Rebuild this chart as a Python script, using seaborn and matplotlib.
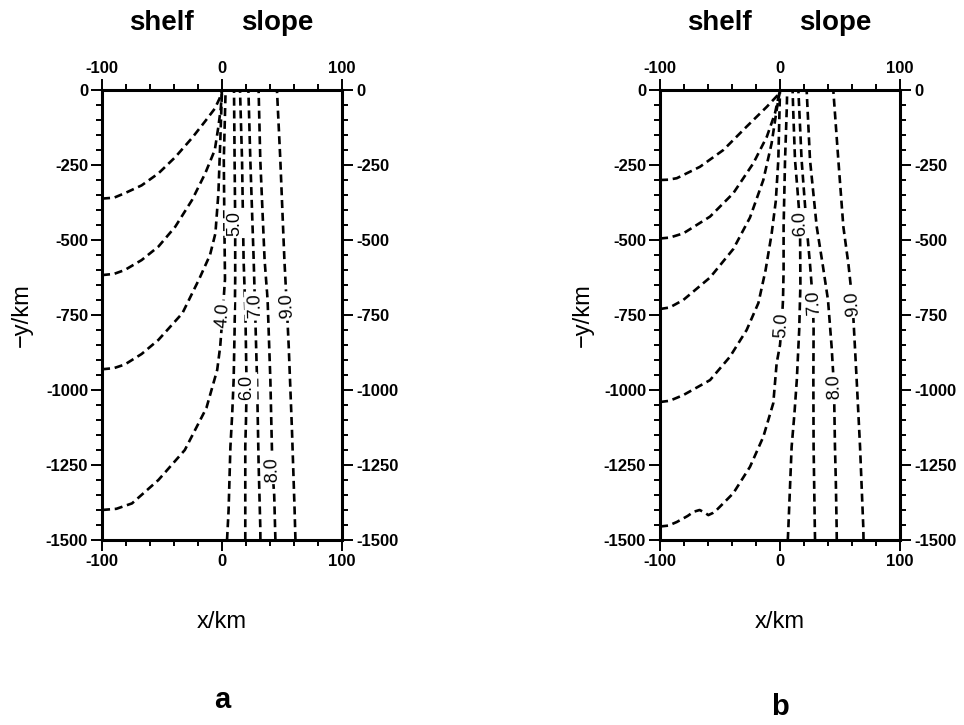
import numpy as np
import pandas as pd
import matplotlib
matplotlib.use("Agg")
import matplotlib.pyplot as plt
from matplotlib.ticker import MultipleLocator
import seaborn as sns

# ---------------- data (km) ----------------
LEVELS = [1.0, 2.0, 3.0, 4.0, 5.0, 6.0, 7.0, 8.0, 9.0]

# panel a contours
A1_X = [-100, -90, -81, -67, -53, -39, -25, -14, -6, -2, 0]
A1_Y = [-362, -359, -344, -318, -278, -224, -160, -104, -62, -28, 0]
A2_X = [-100, -90, -81, -67, -53, -39, -25, -14, -6, -3, -1, 0]
A2_Y = [-617, -613, -600, -567, -522, -456, -367, -278, -200, -122, -60, 0]
A3_X = [-100, -90, -81, -67, -53, -33, -19, -10, -5.5, -3, -1.5, -0.5, 0]
A3_Y = [-931, -927, -915, -880, -833, -744, -630, -550, -478, -344, -178, -60, 0]
A4_X = [-100, -88, -75, -53, -31, -13, -4, -1.5, 0.5, 2.5, 2, 1.5, 3]
A4_Y = [-1400, -1396, -1378, -1300, -1200, -1060, -933, -855, -750, -630, -456, -233, 0]
A5_X = [4.2, 5.5, 7, 8.5, 9.7, 10.5, 11, 11, 10.5, 10]
A5_Y = [-1500, -1400, -1190, -1080, -967, -800, -630, -444, -233, 0]
A6_X = [19.4, 19.4, 19.4, 20, 20.5, 19.5, 18, 16.7, 15]
A6_Y = [-1500, -1350, -1189, -1100, -990, -744, -567, -233, 0]
A7_X = [32, 31.9, 30.5, 29.2, 27.5, 26.4, 23.6, 22]
A7_Y = [-1500, -1456, -1244, -967, -720, -567, -233, 0]
A8_X = [44.5, 43.5, 42, 40.3, 38, 35.5, 31.9, 30.5]
A8_Y = [-1500, -1350, -1265, -967, -700, -567, -233, 0]
A9_X = [61.2, 60.5, 58.3, 55.6, 54, 52, 48.6, 45.8]
A9_Y = [-1500, -1400, -1133, -855, -720, -567, -233, 0]

A_LABEL_TEXT = ["4.0", "5.0", "6.0", "7.0", "8.0", "9.0"]
A_LABEL_LEVEL = [4.0, 5.0, 6.0, 7.0, 8.0, 9.0]
A_LABEL_X = [0.5, 11, 20.5, 27.5, 42, 54]
A_LABEL_Y = [-750, -444, -990, -720, -1265, -720]

# panel b contours
B1_X = [-100, -93, -86, -66.7, -47.2, -27.8, -11, -1.4, 0]
B1_Y = [-300, -299, -294, -256, -200, -122, -56, -15, 0]
B2_X = [-100, -92, -80.6, -58.3, -38.9, -22.2, -11, -4.2, 0]
B2_Y = [-495, -492, -478, -422, -344, -244, -156, -78, 0]
B3_X = [-100, -92, -80.6, -58.3, -38.9, -25, -13.9, -7, -2.8, 0]
B3_Y = [-730, -725, -700, -625, -530, -425, -300, -178, -67, 0]
B4_X = [-100, -92, -80.6, -58.3, -41.7, -27.8, -18, -12, -7, -3.5, -1.4, 0]
B4_Y = [-1040, -1036, -1017, -967, -889, -800, -710, -600, -480, -370, -233, 0]
B5_X = [-100, -93, -86, -77, -72, -67, -63, -59.7, -56, -52.8, -38.9, -25,
        -13.9, -5.6, -2.8, 0, 1.4, 2.5, 3, 3, 4.2, 5.6, 6]
B5_Y = [-1455, -1452, -1440, -1420, -1406, -1400, -1408, -1417, -1410, -1400,
        -1344, -1256, -1156, -1044, -911, -850, -785, -700, -600, -456, -233, -67, 0]
B6_X = [6.5, 7, 9.7, 12, 14, 16, 17, 16.7, 14.5, 12.5, 11, 10.5]
B6_Y = [-1500, -1456, -1189, -1080, -967, -800, -650, -444, -330, -233, -67, 0]
B7_X = [29.2, 29, 28, 27.8, 28, 27.5, 25, 22.2, 18, 15.3]
B7_Y = [-1500, -1456, -1189, -967, -800, -711, -580, -456, -233, 0]
B8_X = [47.3, 47.2, 46.5, 45.8, 45, 43, 40, 35.5, 30.6, 25, 22.2]
B8_Y = [-1500, -1456, -1300, -1189, -990, -855, -700, -580, -456, -233, 0]
B9_X = [69.6, 69.4, 66.7, 63.9, 60.5, 57, 52.8, 48.6, 44.4]
B9_Y = [-1500, -1456, -1189, -967, -711, -580, -456, -233, 0]

B_LABEL_TEXT = ["5.0", "6.0", "7.0", "8.0", "9.0"]
B_LABEL_LEVEL = [5.0, 6.0, 7.0, 8.0, 9.0]
B_LABEL_X = [1.4, 16.7, 28, 45.4, 60.5]
B_LABEL_Y = [-785, -444, -711, -990, -711]

XTICKS = [-100, 0, 100]
XTICK_LABELS = ["-100", "0", "100"]
YTICKS = [0, -250, -500, -750, -1000, -1250, -1500]
YTICK_LABELS = ["0", "-250", "-500", "-750", "-1000", "-1250", "-1500"]

PANEL_LETTERS = ["a", "b"]
TOP_WORDS = ["shelf", "slope"]

# ---------------- styling ----------------
sns.set_style("ticks")
plt.rcParams["font.family"] = ["Liberation Sans", "DejaVu Sans"]
plt.rcParams["lines.scale_dashes"] = False
for key in ["text.color", "axes.labelcolor", "xtick.color", "ytick.color",
            "axes.edgecolor"]:
    plt.rcParams[key] = "black"

fig = plt.figure(figsize=(9.64, 7.25), dpi=100)
W, H = 964, 725
ax_a = fig.add_axes([102 / W, 1 - 540 / H, 240 / W, 450 / H])
ax_b = fig.add_axes([660 / W, 1 - 540 / H, 240 / W, 450 / H])


def to_frame(lines):
    rows = []
    for lev, (xs, ys) in zip(LEVELS, lines):
        for i, (x, y) in enumerate(zip(xs, ys)):
            rows.append({"level": lev, "i": i, "x": x, "y": y})
    return pd.DataFrame(rows)


A_LINES = [(A1_X, A1_Y), (A2_X, A2_Y), (A3_X, A3_Y), (A4_X, A4_Y), (A5_X, A5_Y),
           (A6_X, A6_Y), (A7_X, A7_Y), (A8_X, A8_Y), (A9_X, A9_Y)]
B_LINES = [(B1_X, B1_Y), (B2_X, B2_Y), (B3_X, B3_Y), (B4_X, B4_Y), (B5_X, B5_Y),
           (B6_X, B6_Y), (B7_X, B7_Y), (B8_X, B8_Y), (B9_X, B9_Y)]


def label_rotation(ax, xs, ys, x0, y0):
    pts = ax.transData.transform(np.column_stack([xs, ys]))
    p0 = ax.transData.transform((x0, y0))
    d = np.hypot(pts[:, 0] - p0[0], pts[:, 1] - p0[1])
    i = int(np.argmin(d))
    n = len(pts)
    i0, i1 = max(i - 1, 0), min(i + 1, n - 1)
    dx, dy = pts[i1] - pts[i0]
    return np.degrees(np.arctan2(dy, dx)) % 180


def draw_panel(ax, lines, lab_text, lab_lev, lab_x, lab_y, letter, ylab_x, letter_y):
    df = to_frame(lines)
    sns.lineplot(data=df, x="x", y="y", units="level", estimator=None, sort=False,
                 color="black", linewidth=1.9, linestyle=(0, (5.8, 3.4)),
                 legend=False, ax=ax)
    ax.set_xlim(-100, 100)
    ax.set_ylim(-1500, 0)
    ax.set_xticks(XTICKS, XTICK_LABELS, fontweight="bold", fontsize=12)
    ax.set_yticks(YTICKS, YTICK_LABELS, fontweight="bold", fontsize=12)
    ax.xaxis.set_minor_locator(MultipleLocator(20))
    ax.yaxis.set_minor_locator(MultipleLocator(50))
    ax.tick_params(which="both", direction="out", top=True, right=True,
                   bottom=True, left=True, labeltop=True, labelright=True,
                   width=1.4, color="black", labelcolor="black")
    ax.tick_params(which="major", length=8, pad=2)
    ax.tick_params(which="minor", length=4.5)
    for s in ax.spines.values():
        s.set_linewidth(2.2)
        s.set_color("black")
    ax.set_xlabel("x/km", fontsize=17, va="center", color="black")
    ax.xaxis.set_label_coords(0.5, -0.182)
    ax.set_ylabel("\u2212y/km", fontsize=17, va="center", color="black")
    ax.yaxis.set_label_coords(ylab_x, 0.5)
    ax.text(0.246, 1.149, TOP_WORDS[0], transform=ax.transAxes, ha="center",
            va="center", fontsize=20, fontweight="bold", color="black")
    ax.text(0.729, 1.149, TOP_WORDS[1], transform=ax.transAxes, ha="center",
            va="center", fontsize=20, fontweight="bold", color="black")
    ax.text(0.5, letter_y, letter, transform=ax.transAxes, ha="center",
            va="center", fontsize=21, fontweight="bold", color="black")
    for t, lev, x0, y0 in zip(lab_text, lab_lev, lab_x, lab_y):
        xs, ys = lines[LEVELS.index(lev)]
        rot = label_rotation(ax, xs, ys, x0, y0)
        ax.text(x0, y0, t, rotation=rot, rotation_mode="anchor", ha="center",
                va="center", fontsize=13, zorder=5, color="black",
                bbox=dict(fc="white", ec="none", pad=1.5))


draw_panel(ax_a, A_LINES, A_LABEL_TEXT, A_LABEL_LEVEL, A_LABEL_X, A_LABEL_Y,
           PANEL_LETTERS[0], -0.333, -0.356)
draw_panel(ax_b, B_LINES, B_LABEL_TEXT, B_LABEL_LEVEL, B_LABEL_X, B_LABEL_Y,
           PANEL_LETTERS[1], -0.32, -0.372)

fig.savefig("out.png", dpi=100)
